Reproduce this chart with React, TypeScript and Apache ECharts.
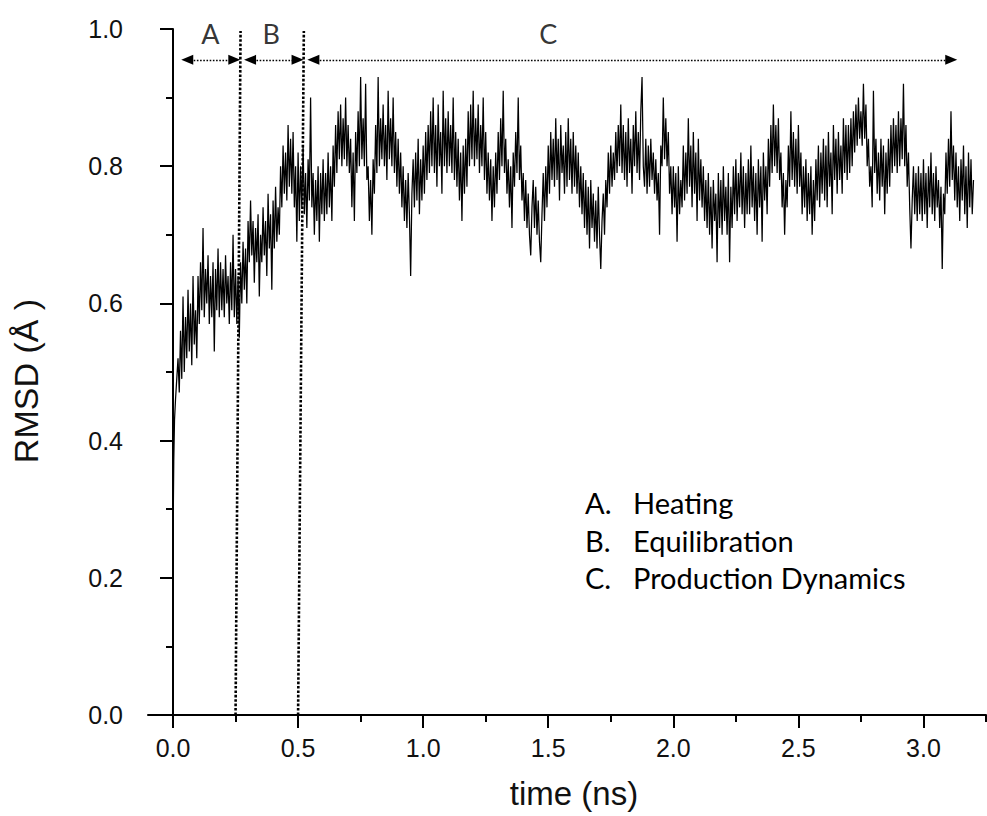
import React, { useEffect, useRef } from "react";
import * as echarts from "echarts";

// initial rise (ns, Å)
const startTimes = [0, 0.001, 0.003, 0.006, 0.01, 0.015];
const startRmsd = [0.105, 0.29, 0.37, 0.43, 0.46, 0.49];

// trace read from 0.02 ns every 0.005 ns (Å)
const sampleStart = 0.02;
const sampleStep = 0.005;
const rmsd = [
  // 0.02 - 0.095
  0.52, 0.47, 0.56, 0.49, 0.61, 0.50, 0.58, 0.52, 0.62, 0.53, 0.60, 0.51, 0.64, 0.54, 0.59, 0.52,
  // 0.10
  0.64, 0.57, 0.66, 0.59, 0.71, 0.58, 0.65, 0.60, 0.67, 0.57, 0.64, 0.58, 0.66, 0.53, 0.65, 0.59, 0.68, 0.58, 0.66, 0.59,
  // 0.20
  0.65, 0.58, 0.67, 0.60, 0.64, 0.57, 0.66, 0.59, 0.70, 0.58, 0.65, 0.57, 0.64, 0.55, 0.66, 0.60, 0.69, 0.62, 0.68, 0.60,
  // 0.30
  0.72, 0.66, 0.75, 0.67, 0.72, 0.63, 0.71, 0.66, 0.73, 0.61, 0.70, 0.66, 0.74, 0.67, 0.72, 0.64, 0.76, 0.68, 0.73, 0.62,
  // 0.40
  0.75, 0.68, 0.77, 0.69, 0.74, 0.70, 0.80, 0.74, 0.83, 0.76, 0.82, 0.75, 0.86, 0.77, 0.84, 0.76, 0.85, 0.74, 0.80, 0.69,
  // 0.50
  0.82, 0.72, 0.80, 0.74, 0.83, 0.73, 0.79, 0.71, 0.81, 0.75, 0.90, 0.74, 0.79, 0.70, 0.78, 0.72, 0.80, 0.69, 0.79, 0.73,
  // 0.60
  0.81, 0.72, 0.79, 0.73, 0.82, 0.74, 0.80, 0.72, 0.83, 0.77, 0.86, 0.79, 0.88, 0.81, 0.89, 0.80, 0.87, 0.81, 0.90, 0.80,
  // 0.70
  0.86, 0.79, 0.84, 0.74, 0.82, 0.72, 0.85, 0.79, 0.88, 0.80, 0.93, 0.81, 0.87, 0.80, 0.92, 0.78, 0.80, 0.72, 0.78, 0.70,
  // 0.80
  0.81, 0.76, 0.86, 0.79, 0.93, 0.80, 0.87, 0.81, 0.89, 0.80, 0.86, 0.78, 0.91, 0.81, 0.87, 0.80, 0.90, 0.79, 0.85, 0.77,
  // 0.90
  0.84, 0.76, 0.82, 0.74, 0.80, 0.72, 0.78, 0.71, 0.79, 0.73, 0.64, 0.76, 0.81, 0.74, 0.82, 0.75, 0.84, 0.73, 0.81, 0.75,
  // 1.00
  0.83, 0.76, 0.85, 0.78, 0.86, 0.79, 0.88, 0.80, 0.90, 0.79, 0.86, 0.77, 0.89, 0.80, 0.85, 0.76, 0.91, 0.80, 0.87, 0.79,
  // 1.10
  0.88, 0.80, 0.86, 0.79, 0.90, 0.78, 0.85, 0.77, 0.84, 0.75, 0.82, 0.72, 0.83, 0.76, 0.84, 0.77, 0.88, 0.80, 0.89, 0.81,
  // 1.20
  0.91, 0.80, 0.87, 0.81, 0.89, 0.79, 0.86, 0.80, 0.90, 0.78, 0.85, 0.76, 0.82, 0.75, 0.81, 0.72, 0.80, 0.74, 0.82, 0.76,
  // 1.30
  0.85, 0.78, 0.87, 0.80, 0.91, 0.79, 0.84, 0.76, 0.81, 0.74, 0.80, 0.71, 0.82, 0.77, 0.85, 0.79, 0.90, 0.78, 0.83, 0.75,
  // 1.40
  0.79, 0.72, 0.78, 0.71, 0.76, 0.70, 0.67, 0.74, 0.78, 0.71, 0.77, 0.70, 0.75, 0.69, 0.66, 0.73, 0.79, 0.72, 0.80, 0.74,
  // 1.50
  0.83, 0.76, 0.85, 0.78, 0.84, 0.77, 0.87, 0.78, 0.84, 0.75, 0.86, 0.79, 0.83, 0.76, 0.85, 0.77, 0.87, 0.78, 0.84, 0.76,
  // 1.60
  0.85, 0.77, 0.83, 0.76, 0.82, 0.74, 0.80, 0.73, 0.79, 0.71, 0.78, 0.70, 0.77, 0.68, 0.78, 0.71, 0.76, 0.69, 0.75, 0.68,
  // 1.70
  0.77, 0.70, 0.65, 0.72, 0.76, 0.70, 0.78, 0.74, 0.82, 0.76, 0.83, 0.77, 0.82, 0.78, 0.85, 0.79, 0.86, 0.80, 0.89, 0.79,
  // 1.80
  0.86, 0.78, 0.85, 0.77, 0.87, 0.79, 0.84, 0.76, 0.86, 0.80, 0.88, 0.79, 0.85, 0.78, 0.88, 0.93, 0.80, 0.77, 0.84, 0.76,
  // 1.90
  0.83, 0.77, 0.84, 0.78, 0.82, 0.76, 0.81, 0.75, 0.79, 0.70, 0.83, 0.80, 0.90, 0.81, 0.87, 0.80, 0.85, 0.76, 0.80, 0.73,
  // 2.00
  0.80, 0.74, 0.79, 0.69, 0.80, 0.73, 0.78, 0.74, 0.83, 0.75, 0.82, 0.76, 0.87, 0.77, 0.83, 0.74, 0.85, 0.76, 0.82, 0.72,
  // 2.10
  0.84, 0.75, 0.81, 0.74, 0.80, 0.72, 0.78, 0.71, 0.79, 0.70, 0.77, 0.68, 0.78, 0.72, 0.76, 0.66, 0.79, 0.71, 0.78, 0.70,
  // 2.20
  0.80, 0.72, 0.77, 0.70, 0.79, 0.66, 0.77, 0.71, 0.80, 0.73, 0.81, 0.72, 0.79, 0.74, 0.82, 0.73, 0.80, 0.71, 0.79, 0.73,
  // 2.30
  0.81, 0.73, 0.83, 0.74, 0.80, 0.72, 0.79, 0.70, 0.81, 0.74, 0.80, 0.69, 0.82, 0.75, 0.80, 0.73, 0.84, 0.77, 0.86, 0.79,
  // 2.40
  0.89, 0.80, 0.86, 0.79, 0.87, 0.78, 0.82, 0.74, 0.79, 0.70, 0.78, 0.74, 0.83, 0.77, 0.88, 0.78, 0.85, 0.77, 0.84, 0.76,
  // 2.50
  0.86, 0.77, 0.82, 0.73, 0.80, 0.74, 0.81, 0.72, 0.79, 0.73, 0.80, 0.70, 0.78, 0.72, 0.81, 0.75, 0.83, 0.74, 0.82, 0.76,
  // 2.60
  0.84, 0.75, 0.83, 0.74, 0.85, 0.77, 0.82, 0.73, 0.86, 0.78, 0.84, 0.76, 0.85, 0.78, 0.83, 0.76, 0.87, 0.79, 0.86, 0.78,
  // 2.70
  0.86, 0.79, 0.87, 0.80, 0.88, 0.82, 0.89, 0.83, 0.90, 0.84, 0.88, 0.83, 0.92, 0.84, 0.89, 0.80, 0.84, 0.77, 0.80, 0.74,
  // 2.80
  0.91, 0.79, 0.84, 0.76, 0.82, 0.75, 0.84, 0.77, 0.83, 0.73, 0.82, 0.76, 0.84, 0.77, 0.86, 0.79, 0.87, 0.80, 0.86, 0.79,
  // 2.90
  0.88, 0.80, 0.87, 0.81, 0.92, 0.80, 0.86, 0.77, 0.82, 0.74, 0.68, 0.75, 0.80, 0.73, 0.79, 0.72, 0.80, 0.73, 0.79, 0.72,
  // 3.00
  0.81, 0.73, 0.79, 0.71, 0.80, 0.74, 0.82, 0.73, 0.79, 0.72, 0.80, 0.74, 0.78, 0.71, 0.77, 0.65, 0.76, 0.73, 0.82, 0.76,
  // 3.10 - 3.20
  0.84, 0.77, 0.88, 0.78, 0.83, 0.75, 0.82, 0.74, 0.80, 0.72, 0.81, 0.75, 0.83, 0.73, 0.80, 0.71, 0.82, 0.74, 0.81, 0.73, 0.78,
];

const xMajorTicks = [0, 0.5, 1.0, 1.5, 2.0, 2.5, 3.0];
const xMinorTicks = [0.25, 0.75, 1.25, 1.75, 2.25, 2.75, 3.25];

// phase boundaries (slightly slanted in the original figure): bottom x, top x
const boundaryBottom = [0.25, 0.5];
const boundaryTop = [0.27, 0.523];

// phase arrows: from / to at a fixed level
const arrowFrom = [0.057, 0.308, 0.561];
const arrowTo = [0.245, 0.498, 3.111];
const arrowLevel = 0.955;

const phaseLetters = ["A", "B", "C"];
const letterX = [0.149, 0.393, 1.5];
const letterLevel = 0.994;

const legendKeys = ["A.", "B.", "C."];
const legendNames = ["Heating", "Equilibration", "Production Dynamics"];

const AXIS_FONT = "'Liberation Sans', Arial, sans-serif";
const NOTE_FONT = "Lato, 'Open Sans', sans-serif";

export default function App() {
  const ref = useRef<HTMLDivElement>(null);

  useEffect(() => {
    if (!ref.current) return;
    const chart = echarts.init(ref.current, undefined, { renderer: "svg" });

    const data: number[][] = [];
    startTimes.forEach((t, i) => data.push([t, startRmsd[i]]));
    rmsd.forEach((v, i) =>
      data.push([Math.round((sampleStart + i * sampleStep) * 10000) / 10000, v])
    );

    const axisLineStyle = { color: "#000", width: 2 };

    chart.setOption({
      animation: false,
      backgroundColor: "#fff",
      grid: { left: 148, right: 1, top: 29, bottom: 101, containLabel: false },
      xAxis: [
        {
          type: "value",
          min: -0.1,
          max: 3.25,
          position: "bottom",
          axisLine: { show: true, onZero: false, lineStyle: axisLineStyle },
          axisTick: {
            show: true,
            inside: false,
            length: 13,
            lineStyle: axisLineStyle,
            customValues: xMajorTicks,
          },
          axisLabel: {
            show: true,
            customValues: xMajorTicks,
            formatter: (v: number) => v.toFixed(1),
            fontSize: 25,
            fontFamily: AXIS_FONT,
            color: "#111",
            margin: 20,
          },
          splitLine: { show: false },
          name: "time (ns)",
          nameLocation: "middle",
          nameGap: 62,
          nameTextStyle: {
            fontSize: 33,
            fontFamily: AXIS_FONT,
            color: "#111",
            padding: [0, 0, 0, 14],
          },
        },
        {
          type: "value",
          min: -0.1,
          max: 3.25,
          position: "bottom",
          axisLine: { show: false, onZero: false },
          axisTick: {
            show: true,
            inside: false,
            length: 7,
            lineStyle: axisLineStyle,
            customValues: xMinorTicks,
          },
          axisLabel: { show: false },
          splitLine: { show: false },
        },
      ],
      yAxis: {
        type: "value",
        min: 0,
        max: 1,
        interval: 0.2,
        axisLine: { show: true, lineStyle: axisLineStyle },
        axisTick: { show: true, inside: false, length: 13, lineStyle: axisLineStyle },
        minorTick: { show: true, splitNumber: 2, length: 7, lineStyle: axisLineStyle },
        axisLabel: {
          formatter: (v: number) => v.toFixed(1),
          fontSize: 25,
          fontFamily: AXIS_FONT,
          color: "#111",
          margin: 25,
        },
        splitLine: { show: false },
        minorSplitLine: { show: false },
        name: "RMSD (Å )",
        nameLocation: "middle",
        nameGap: 105,
        nameRotate: 90,
        nameTextStyle: {
          fontSize: 34,
          fontFamily: AXIS_FONT,
          color: "#111",
          padding: [0, 18, 0, 0],
        },
      },
      series: [
        {
          type: "line",
          xAxisIndex: 0,
          data,
          symbol: "none",
          showSymbol: false,
          silent: true,
          lineStyle: { color: "#000", width: 1.25 },
          z: 2,
          markLine: {
            silent: true,
            symbol: "none",
            label: { show: false },
            lineStyle: { type: [2.6, 1.8], width: 2.6, color: "#000" },
            data: boundaryBottom.map((b, i) => [
              { coord: [b, 0] },
              { coord: [boundaryTop[i], 0.997] },
            ]),
          },
        },
        {
          type: "scatter",
          xAxisIndex: 0,
          silent: true,
          symbolSize: 0,
          data: phaseLetters.map((l, i) => ({ name: l, value: [letterX[i], letterLevel] })),
          label: {
            show: true,
            position: "inside",
            formatter: (p: any) => p.name,
            fontSize: 27,
            fontFamily: NOTE_FONT,
            color: "#000",
          },
          markLine: {
            silent: true,
            symbol: ["triangle", "triangle"],
            symbolSize: [10, 12],
            label: { show: false },
            lineStyle: { type: [1.6, 1.6], width: 1.4, color: "#000" },
            itemStyle: { color: "#000" },
            data: arrowFrom.map((f, i) => [
              { coord: [f, arrowLevel] },
              { coord: [arrowTo[i], arrowLevel] },
            ]),
          },
        },
      ],
      graphic: legendKeys.flatMap((k, i) => [
        {
          type: "text",
          left: 585,
          top: 488 + i * 37.5,
          style: { text: k, font: `29px ${NOTE_FONT}`, fill: "#000" },
          silent: true,
        },
        {
          type: "text",
          left: 633,
          top: 488 + i * 37.5,
          style: { text: legendNames[i], font: `29px ${NOTE_FONT}`, fill: "#000" },
          silent: true,
        },
      ]),
    });

    return () => chart.dispose();
  }, []);

  return (
    <div
      ref={ref}
      style={{ position: "absolute", left: 0, top: 0, width: 987, height: 816, background: "#fff" }}
    />
  );
}
